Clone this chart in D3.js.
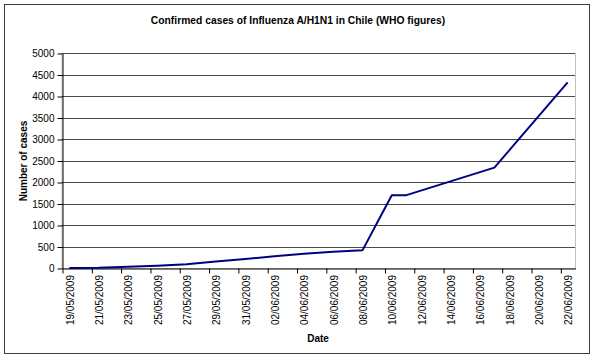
<!DOCTYPE html>
<html>
<head>
<meta charset="utf-8">
<script src="https://cdn.jsdelivr.net/npm/d3@7"></script>
<style>
  html, body { margin: 0; padding: 0; background: #fff; }
  svg { display: block; font-family: "Liberation Sans", Arial, sans-serif; }
</style>
</head>
<body>
<svg id="chart" width="595" height="359"></svg>
<script>
// ---- data ----
const reportDates = ["19/05/2009","21/05/2009","23/05/2009","25/05/2009","27/05/2009","29/05/2009",
  "31/05/2009","02/06/2009","04/06/2009","06/06/2009","08/06/2009","10/06/2009","11/06/2009",
  "17/06/2009","22/06/2009"];
const confirmedCases = [1, 5, 28, 52, 90, 150, 210, 275, 330, 380, 410, 1694, 1694, 2335, 4315];
const xTickLabels = ["19/05/2009","21/05/2009","23/05/2009","25/05/2009","27/05/2009","29/05/2009",
  "31/05/2009","02/06/2009","04/06/2009","06/06/2009","08/06/2009","10/06/2009","12/06/2009",
  "14/06/2009","16/06/2009","18/06/2009","20/06/2009","22/06/2009"];
const yTicks = [0, 500, 1000, 1500, 2000, 2500, 3000, 3500, 4000, 4500, 5000];
const titleText = "Confirmed cases of Influenza A/H1N1 in Chile (WHO figures)";
const xTitle = "Date";
const yTitle = "Number of cases";

// ---- layout ----
const parse = d3.utcParse("%d/%m/%Y");
const svg = d3.select("#chart");
const plot = { left: 62, right: 575, top: 53, bottom: 268 };
const firstDay = parse(xTickLabels[0]);
const lastDay = d3.utcDay.offset(parse(xTickLabels[xTickLabels.length - 1]), 1);

const x = d3.scaleUtc().domain([firstDay, lastDay]).range([plot.left, plot.right]);
const y = d3.scaleLinear().domain([0, 5000]).range([plot.bottom, plot.top]);
const mid = d => d3.utcHour.offset(d, 12);

// outer border
svg.append("rect").attr("x", 4.5).attr("y", 4.5).attr("width", 585).attr("height", 349)
  .attr("fill", "#fff").attr("stroke", "#3c3c3c").attr("stroke-width", 1);

// title
svg.append("text").attr("x", 298).attr("y", 24).attr("text-anchor", "middle")
  .attr("font-size", 10.3).attr("font-weight", "bold").attr("fill", "#000").text(titleText);

// plot area
svg.append("rect").attr("x", plot.left).attr("y", plot.top + 0.5)
  .attr("width", plot.right - plot.left + 0.5).attr("height", plot.bottom - plot.top)
  .attr("fill", "#fff").attr("stroke", "#c0c0c0");

// gridlines
svg.append("g").selectAll("line").data(yTicks.filter(v => v > 0)).join("line")
  .attr("x1", plot.left).attr("x2", plot.right)
  .attr("y1", d => Math.round(y(d)) + 0.5).attr("y2", d => Math.round(y(d)) + 0.5)
  .attr("stroke", "#4a4a4a").attr("stroke-width", 1);

// y axis
const yAxis = svg.append("g").attr("transform", `translate(${plot.left + 0.5},0.5)`)
  .call(d3.axisLeft(y).tickValues(yTicks).tickFormat(d3.format("d"))
    .tickSize(5).tickPadding(3).tickSizeOuter(0));
yAxis.select(".domain").attr("stroke", "#000");
yAxis.selectAll(".tick line").attr("stroke", "#000");
yAxis.selectAll(".tick text").attr("font-size", 10).attr("fill", "#000")
  .attr("font-family", "Liberation Sans, Arial, sans-serif");

// x axis (ticks at day boundaries every 2 days)
const tickDates = xTickLabels.map(parse);
const xAxis = svg.append("g").attr("transform", `translate(0.5,${plot.bottom + 0.5})`)
  .call(d3.axisBottom(x).tickValues(tickDates).tickSize(5).tickSizeOuter(0).tickFormat(""));
xAxis.select(".domain").attr("stroke", "#000");
xAxis.selectAll(".tick line").attr("stroke", "#000");

// x labels centred on the day
svg.append("g").selectAll("text").data(xTickLabels).join("text")
  .attr("transform", d => `translate(${x(mid(parse(d))) + 1},275) rotate(-90)`)
  .attr("text-anchor", "end").attr("dominant-baseline", "central")
  .attr("font-size", 10).attr("fill", "#000").text(d => d);

// axis titles
svg.append("text").attr("x", 318).attr("y", 342).attr("text-anchor", "middle")
  .attr("font-size", 10).attr("font-weight", "bold").text(xTitle);
svg.append("text").attr("transform", "translate(27,161) rotate(-90)").attr("text-anchor", "middle")
  .attr("font-size", 10).attr("font-weight", "bold").text(yTitle);

// line
const pts = reportDates.map((d, i) => [x(mid(parse(d))), y(confirmedCases[i])]);
svg.append("path").attr("d", d3.line()(pts)).attr("fill", "none")
  .attr("stroke", "#000080").attr("stroke-width", 2).attr("stroke-linejoin", "round");
</script>
</body>
</html>
